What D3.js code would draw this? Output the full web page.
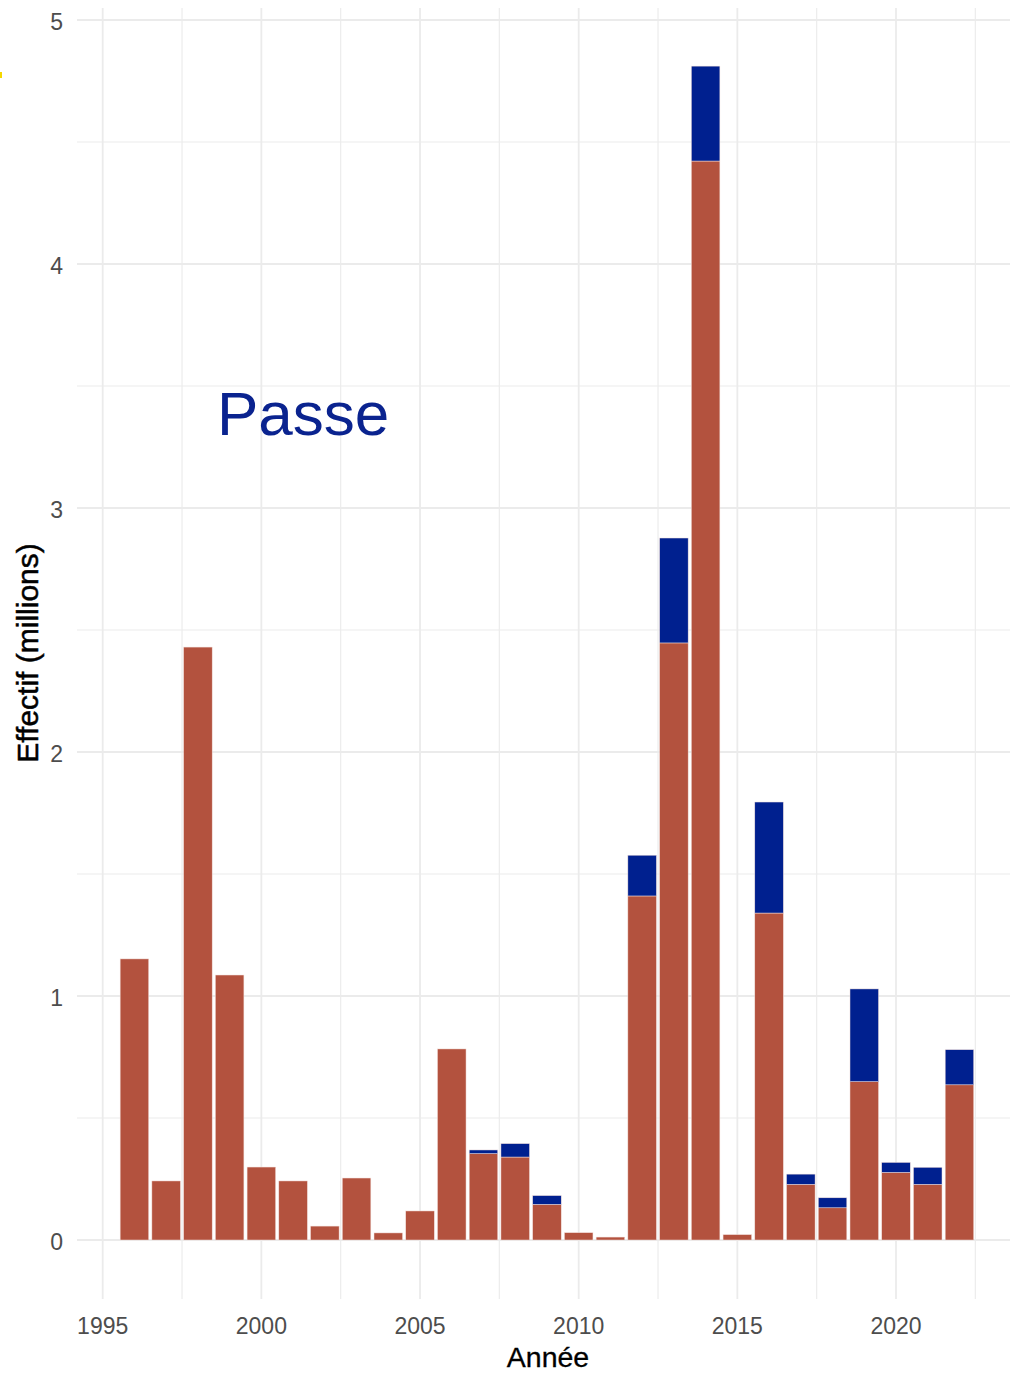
<!DOCTYPE html>
<html>
<head>
<meta charset="utf-8">
<script src="https://cdn.jsdelivr.net/npm/d3@7"></script>
<style>
html,body{margin:0;padding:0;background:#fff;}
svg{display:block;}
</style>
</head>
<body>
<script>
const years = [1996,1997,1998,1999,2000,2001,2002,2003,2004,2005,2006,2007,2008,2009,2010,2011,2012,2013,2014,2015,2016,2017,2018,2019,2020,2021,2022];
const seriesRouge = [1.152,0.242,2.430,1.086,0.299,0.242,0.057,0.254,0.029,0.119,0.783,0.354,0.340,0.146,0.030,0.012,1.410,2.447,4.422,0.022,1.340,0.228,0.132,0.649,0.277,0.228,0.636];
const seriesBleu  = [0,0,0,0,0,0,0,0,0,0,0,0.015,0.055,0.036,0,0,0.167,0.430,0.389,0,0.455,0.042,0.041,0.380,0.041,0.070,0.144];
const xTicks = [1995,2000,2005,2010,2015,2020];
const xMinor = [1997.5,2002.5,2007.5,2012.5,2017.5,2022.5];
const yTicks = [0,1,2,3,4,5];
const yMinor = [0.5,1.5,2.5,3.5,4.5];
const colors = {rouge:"#B3523E", bleu:"#00208F"};

const W = 1010, H = 1374;
const svg = d3.select("body").append("svg").attr("width", W).attr("height", H);

const x = d3.scaleLinear().domain([1995, 2020]).range([102.7, 896]);
const y = d3.scaleLinear().domain([0, 5]).range([1240, 20]);
const panel = {left: x(1994.19), right: 1016, top: 8, bottom: 1299};

const g = svg.append("g");
// grid
g.selectAll("line.ymin").data(yMinor).join("line")
  .attr("x1", panel.left).attr("x2", panel.right)
  .attr("y1", d => y(d)).attr("y2", d => y(d))
  .attr("stroke", "#ececec").attr("stroke-width", 1.2);
g.selectAll("line.xmin").data(xMinor).join("line")
  .attr("y1", panel.top).attr("y2", panel.bottom)
  .attr("x1", d => x(d)).attr("x2", d => x(d))
  .attr("stroke", "#ececec").attr("stroke-width", 1.2);
g.selectAll("line.ymaj").data(yTicks).join("line")
  .attr("x1", panel.left).attr("x2", panel.right)
  .attr("y1", d => y(d)).attr("y2", d => y(d))
  .attr("stroke", "#ebebeb").attr("stroke-width", 1.8);
g.selectAll("line.xmaj").data(xTicks).join("line")
  .attr("y1", panel.top).attr("y2", panel.bottom)
  .attr("x1", d => x(d)).attr("x2", d => x(d))
  .attr("stroke", "#ebebeb").attr("stroke-width", 1.8);

// data / stack
const table = years.map((yr, i) => ({year: yr, rouge: seriesRouge[i], bleu: seriesBleu[i]}));
const stack = d3.stack().keys(["rouge", "bleu"])(table);
const bw = x(1996.45) - x(1995.55);
stack.forEach(layer => {
  g.append("g").selectAll("rect").data(layer).join("rect")
    .attr("x", d => x(d.data.year) - bw / 2)
    .attr("width", bw)
    .attr("y", d => y(d[1]))
    .attr("height", d => Math.max(0, y(d[0]) - y(d[1])))
    .attr("fill", colors[layer.key])
    .attr("stroke", "#f3e0dc").attr("stroke-width", 0.5);
});

// axes labels
const font = "Liberation Sans, Arial, sans-serif";
g.selectAll("text.yt").data(yTicks).join("text")
  .attr("x", 63).attr("y", d => y(d)).attr("dy", "0.45em")
  .attr("text-anchor", "end").attr("font-family", font).attr("font-size", 23)
  .attr("fill", "#4d4d4d").text(d => d);
g.selectAll("text.xt").data(xTicks).join("text")
  .attr("x", d => x(d)).attr("y", 1334)
  .attr("text-anchor", "middle").attr("font-family", font).attr("font-size", 23)
  .attr("fill", "#4d4d4d").text(d => d);

svg.append("text").attr("x", 548).attr("y", 1367)
  .attr("text-anchor", "middle").attr("font-family", font).attr("font-size", 28.5)
  .attr("fill", "#000").attr("stroke", "#000").attr("stroke-width", 0.3).text("Année");
svg.append("text").attr("transform", "translate(38,653) rotate(-90)")
  .attr("text-anchor", "middle").attr("font-family", font).attr("font-size", 30)
  .attr("fill", "#000").attr("stroke", "#000").attr("stroke-width", 0.5).text("Effectif (millions)");

svg.append("text").attr("x", 217).attr("y", 435)
  .attr("font-family", font).attr("font-size", 62)
  .attr("fill", "#0a238f").text("Passe");

// small yellow mark at the left edge
svg.append("rect").attr("x", 0).attr("y", 72).attr("width", 2).attr("height", 6).attr("fill", "#f5d800");
</script>
</body>
</html>
